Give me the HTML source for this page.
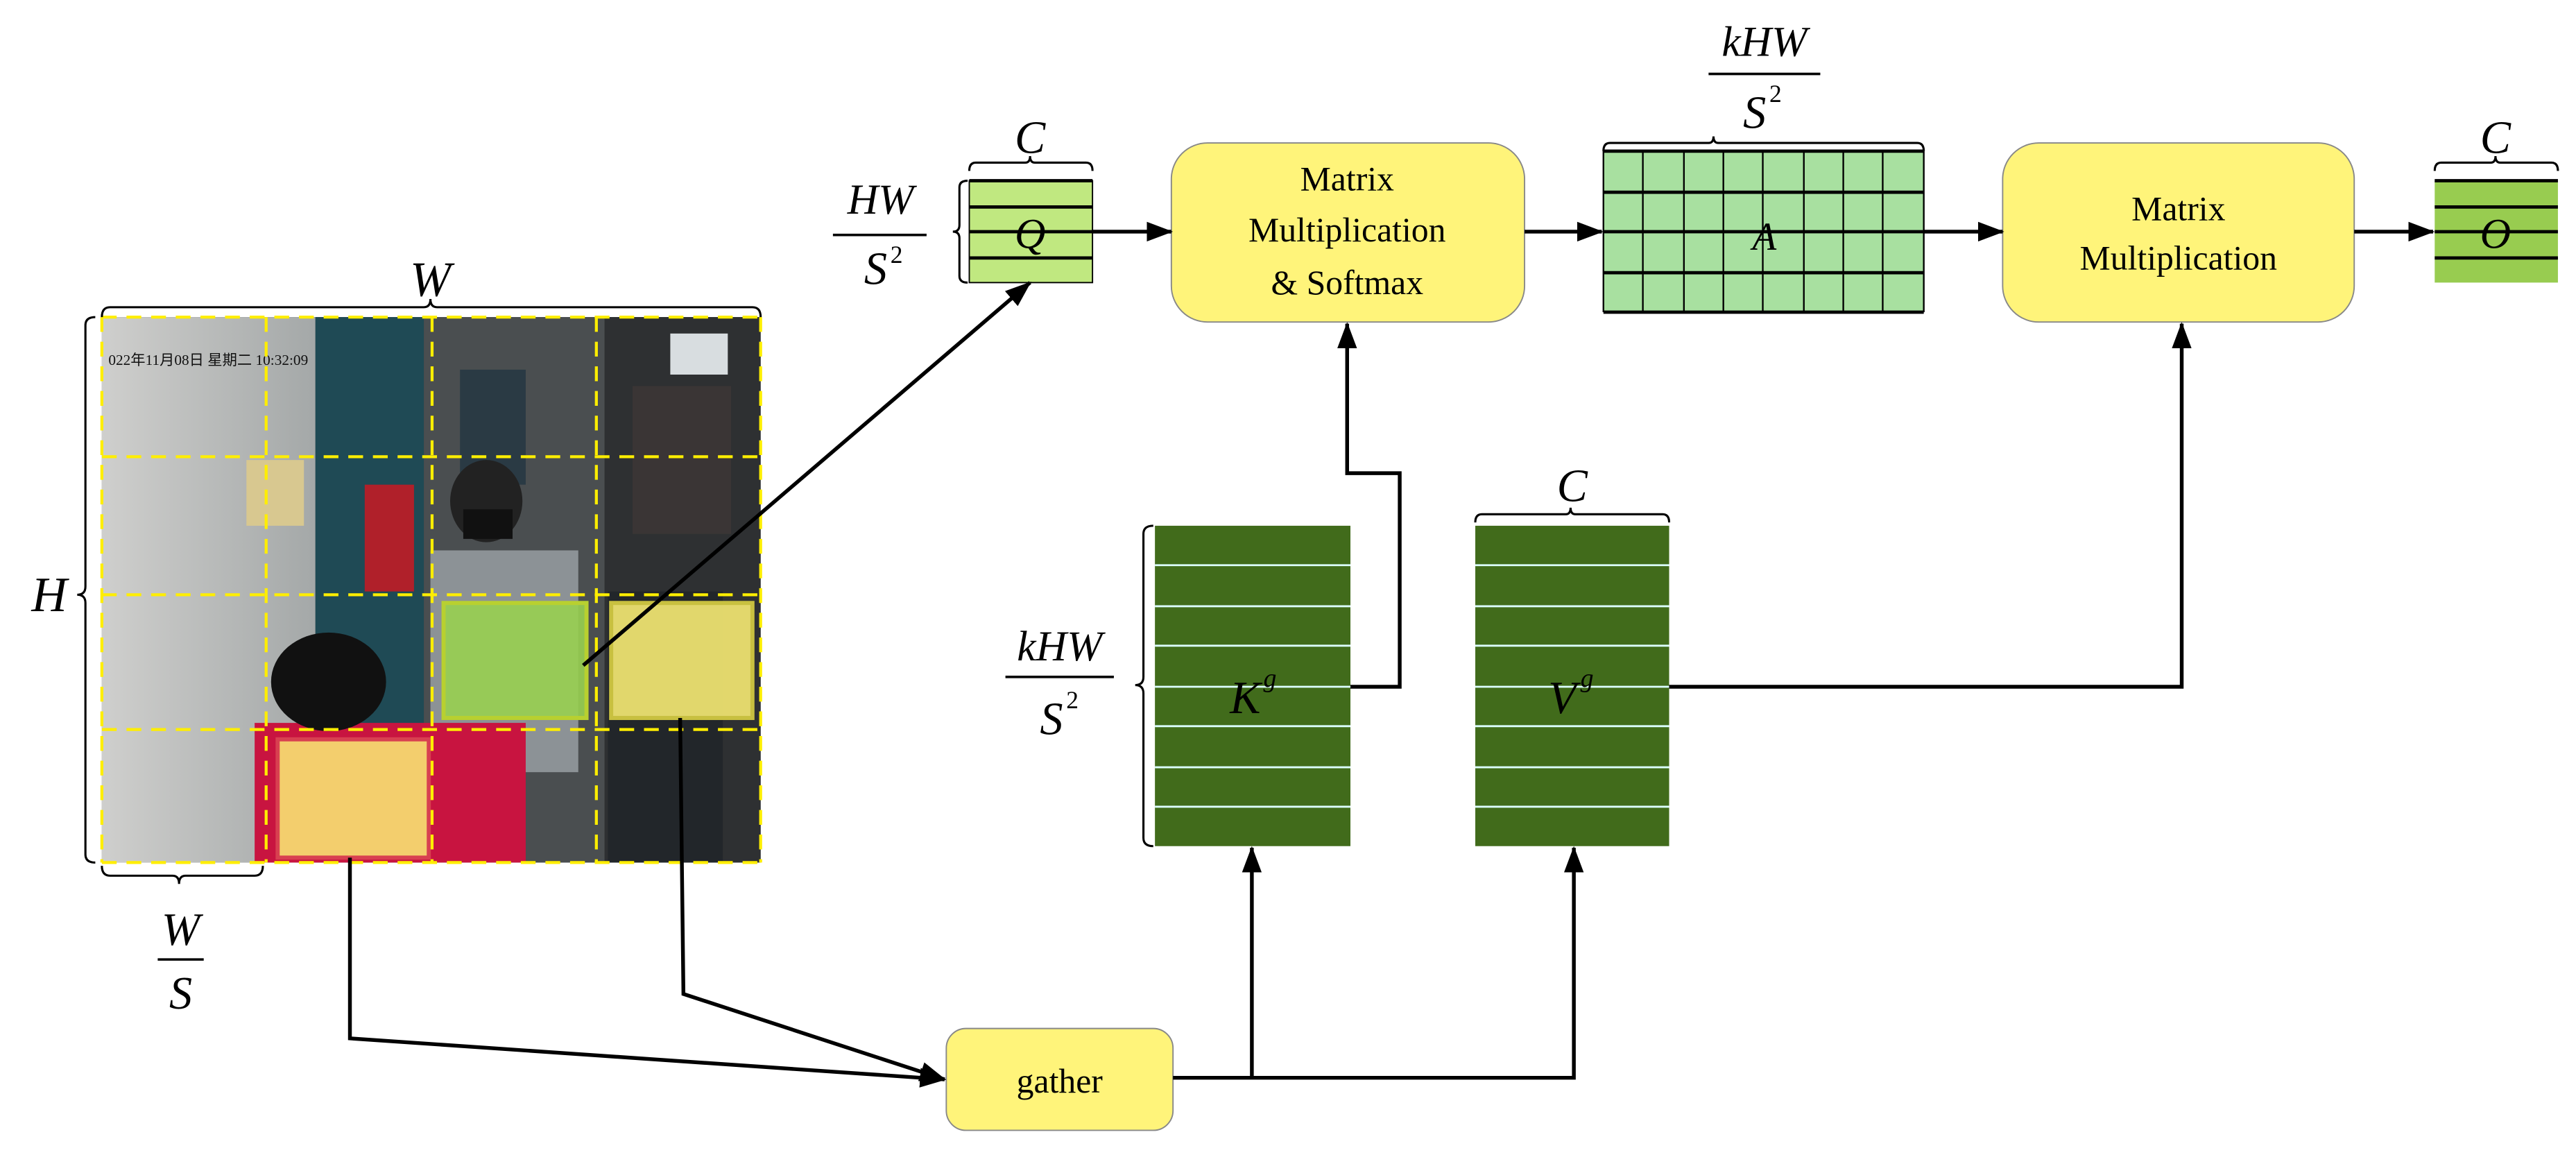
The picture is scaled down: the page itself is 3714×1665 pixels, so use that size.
<!DOCTYPE html>
<html><head><meta charset="utf-8"><style>
html,body{margin:0;padding:0;background:#fff;}
svg{display:block;}
text{font-family:"Liberation Serif",serif;fill:#000;}
.it{font-style:italic;}
</style></head><body>
<svg width="3714" height="1665" viewBox="0 0 1568 703" preserveAspectRatio="none" xmlns="http://www.w3.org/2000/svg">
<defs>
<marker id="ar" markerWidth="16" markerHeight="12" refX="15" refY="6" orient="auto" markerUnits="userSpaceOnUse"><path d="M0,0 L16,6 L0,12 z" fill="#000"/></marker>
<linearGradient id="wall" x1="0" x2="1" y1="0" y2="0"><stop offset="0" stop-color="#cfcfcd"/><stop offset="1" stop-color="#a4a8a8"/></linearGradient>
</defs>
<!-- photo -->
<rect x="62" y="193" width="401" height="332" fill="#3a3d40"/>
<rect x="62" y="193" width="130" height="332" fill="url(#wall)"/>
<rect x="192" y="193" width="66" height="332" fill="#1f4a55"/>
<rect x="258" y="193" width="110" height="332" fill="#4a4e50"/>
<rect x="280" y="225" width="40" height="70" fill="#2a3a44"/>
<rect x="368" y="193" width="95" height="332" fill="#2e3032"/>
<rect x="408" y="203" width="35" height="25" fill="#d8dde0"/>
<rect x="385" y="235" width="60" height="90" fill="#3a3535"/>
<rect x="150" y="280" width="35" height="40" fill="#d8c890"/>
<rect x="222" y="295" width="30" height="65" fill="#b0202a"/>
<rect x="262" y="335" width="90" height="135" fill="#8c9296"/>
<ellipse cx="296" cy="305" rx="22" ry="25" fill="#222"/>
<rect x="282" y="310" width="30" height="18" fill="#111"/>
<rect x="155" y="440" width="165" height="85" fill="#c81440"/>
<ellipse cx="200" cy="415" rx="35" ry="30" fill="#111"/>
<rect x="370" y="360" width="70" height="165" fill="#22262a"/>
<text x="66" y="222" font-size="9" font-family="Liberation Mono, Noto Sans CJK SC, monospace" style="fill:#111">022年11月08日  星期二  10:32:09</text>
<!-- highlight boxes -->
<rect x="270" y="367" width="87" height="70" fill="#98d050" fill-opacity="0.9" stroke="#b8d030" stroke-width="2.5"/>
<rect x="372" y="367" width="86" height="70" fill="#ece070" fill-opacity="0.95" stroke="#c8c040" stroke-width="2.5"/>
<rect x="169" y="450" width="92" height="72" fill="#f6d870" fill-opacity="0.95" stroke="#d84050" stroke-width="2.5"/>
<!-- grid -->
<g stroke="#ffee00" stroke-width="1.8" stroke-dasharray="9,6" fill="none">
<line x1="62" y1="193" x2="463" y2="193"/><line x1="62" y1="278" x2="463" y2="278"/>
<line x1="62" y1="362" x2="463" y2="362"/><line x1="62" y1="444" x2="463" y2="444"/>
<line x1="62" y1="525" x2="463" y2="525"/>
<line x1="62" y1="193" x2="62" y2="525"/><line x1="162" y1="193" x2="162" y2="525"/>
<line x1="263" y1="193" x2="263" y2="525"/><line x1="363" y1="193" x2="363" y2="525"/>
<line x1="463" y1="193" x2="463" y2="525"/>
</g>
<!-- braces -->
<g stroke="#000" stroke-width="1.3" fill="none">
<path d="M62,193 q0,-6 5,-6 L258,187 q4,0 4,-5 q0,5 4,5 L458,187 q5,0 5,6"/>
<path d="M58,193 q-6,0 -6,5 L52,357 q0,5 -5,5 q5,0 5,5 L52,520 q0,5 6,5"/>
<path d="M62,527 q0,6 5,6 L105,533 q4,0 4,5 q0,-5 4,-5 L155,533 q5,0 5,-6"/>
<path d="M590,104 q0,-5 4,-5 L624,99 q3,0 3,-4 q0,4 3,4 L661,99 q4,0 4,5"/>
<path d="M589,110 q-5,0 -5,4 L584,137 q0,4 -4,4 q4,0 4,4 L584,168 q0,4 5,4"/>
<path d="M976,92 q0,-5 4,-5 L1040,87 q3,0 3,-4 q0,4 3,4 L1167,87 q4,0 4,5"/>
<path d="M1482,104 q0,-5 4,-5 L1516,99 q3,0 3,-4 q0,4 3,4 L1553,99 q4,0 4,5"/>
<path d="M702,320 q-6,0 -6,5 L696,412 q0,5 -5,5 q5,0 5,5 L696,510 q0,5 6,5"/>
<path d="M898,318 q0,-5 4,-5 L953,313 q3,0 3,-4 q0,4 3,4 L1012,313 q4,0 4,5"/>
</g>
<text class="it" x="262" y="180" font-size="30" text-anchor="middle">W</text>
<text class="it" x="30" y="372" font-size="30" text-anchor="middle">H</text>
<text class="it" x="110" y="575" font-size="28" text-anchor="middle">W</text>
<line x1="96" y1="584" x2="124" y2="584" stroke="#000" stroke-width="1.5"/>
<text class="it" x="110" y="614" font-size="28" text-anchor="middle">S</text>
<!-- Q -->
<rect x="590" y="110" width="75" height="62" fill="#c0e880" stroke="#000" stroke-width="0.8"/>
<g stroke="#000" stroke-width="2"><line x1="590" y1="110" x2="665" y2="110"/><line x1="590" y1="126" x2="665" y2="126"/><line x1="590" y1="141" x2="665" y2="141"/><line x1="590" y1="157" x2="665" y2="157"/></g>
<text class="it" x="627" y="151" font-size="26" text-anchor="middle">Q</text>
<text class="it" x="627" y="93" font-size="28" text-anchor="middle">C</text>
<text class="it" x="536" y="130" font-size="26" text-anchor="middle">HW</text>
<line x1="507" y1="143" x2="564" y2="143" stroke="#000" stroke-width="1.5"/>
<text class="it" x="533" y="173" font-size="28" text-anchor="middle">S</text><text x="542" y="160" font-size="15">2</text>
<!-- MM1 -->
<rect x="713" y="87" width="215" height="109" rx="22" fill="#fff47a" stroke="#888" stroke-width="0.8"/>
<text x="820" y="116" font-size="21" text-anchor="middle">Matrix</text>
<text x="820" y="147" font-size="21" text-anchor="middle">Multiplication</text>
<text x="820" y="179" font-size="21" text-anchor="middle">&amp; Softmax</text>
<!-- A -->
<rect x="976" y="92" width="195" height="98" fill="#a8e0a0"/>
<g stroke="#000" stroke-width="1">
<line x1="1000" y1="92" x2="1000" y2="190"/><line x1="1025" y1="92" x2="1025" y2="190"/><line x1="1049" y1="92" x2="1049" y2="190"/><line x1="1073" y1="92" x2="1073" y2="190"/><line x1="1098" y1="92" x2="1098" y2="190"/><line x1="1122" y1="92" x2="1122" y2="190"/><line x1="1146" y1="92" x2="1146" y2="190"/>
<line x1="976" y1="92" x2="976" y2="190"/><line x1="1171" y1="92" x2="1171" y2="190"/>
</g>
<g stroke="#000" stroke-width="2"><line x1="976" y1="92" x2="1171" y2="92"/><line x1="976" y1="117" x2="1171" y2="117"/><line x1="976" y1="141" x2="1171" y2="141"/><line x1="976" y1="166" x2="1171" y2="166"/><line x1="976" y1="190" x2="1171" y2="190"/></g>
<text class="it" x="1074" y="152" font-size="24" text-anchor="middle">A</text>
<text class="it" x="1074" y="34" font-size="26" text-anchor="middle">kHW</text>
<line x1="1040" y1="45" x2="1108" y2="45" stroke="#000" stroke-width="1.5"/>
<text class="it" x="1068" y="78" font-size="28" text-anchor="middle">S</text><text x="1077" y="62" font-size="15">2</text>
<!-- MM2 -->
<rect x="1219" y="87" width="214" height="109" rx="22" fill="#fff47a" stroke="#888" stroke-width="0.8"/>
<text x="1326" y="134" font-size="21" text-anchor="middle">Matrix</text>
<text x="1326" y="164" font-size="21" text-anchor="middle">Multiplication</text>
<!-- O -->
<rect x="1482" y="110" width="75" height="62" fill="#98cc50"/>
<g stroke="#000" stroke-width="2"><line x1="1482" y1="110" x2="1557" y2="110"/><line x1="1482" y1="126" x2="1557" y2="126"/><line x1="1482" y1="141" x2="1557" y2="141"/><line x1="1482" y1="157" x2="1557" y2="157"/></g>
<text class="it" x="1519" y="151" font-size="26" text-anchor="middle">O</text>
<text class="it" x="1519" y="93" font-size="28" text-anchor="middle">C</text>
<!-- K, V -->
<rect x="703" y="320" width="119" height="195" fill="#416b1b"/>
<rect x="898" y="320" width="118" height="195" fill="#416b1b"/>
<g stroke="#dff" stroke-width="1.2">
<line x1="703" y1="344" x2="822" y2="344"/><line x1="703" y1="369" x2="822" y2="369"/><line x1="703" y1="393" x2="822" y2="393"/><line x1="703" y1="418" x2="822" y2="418"/><line x1="703" y1="442" x2="822" y2="442"/><line x1="703" y1="467" x2="822" y2="467"/><line x1="703" y1="491" x2="822" y2="491"/>
<line x1="898" y1="344" x2="1016" y2="344"/><line x1="898" y1="369" x2="1016" y2="369"/><line x1="898" y1="393" x2="1016" y2="393"/><line x1="898" y1="418" x2="1016" y2="418"/><line x1="898" y1="442" x2="1016" y2="442"/><line x1="898" y1="467" x2="1016" y2="467"/><line x1="898" y1="491" x2="1016" y2="491"/>
</g>
<text class="it" x="758" y="434" font-size="28" text-anchor="middle">K</text><text class="it" x="769" y="418" font-size="16">g</text>
<text class="it" x="951" y="434" font-size="28" text-anchor="middle">V</text><text class="it" x="962" y="418" font-size="16">g</text>
<text class="it" x="645" y="402" font-size="26" text-anchor="middle">kHW</text>
<line x1="612" y1="412" x2="678" y2="412" stroke="#000" stroke-width="1.5"/>
<text class="it" x="640" y="447" font-size="28" text-anchor="middle">S</text><text x="649" y="431" font-size="15">2</text>
<text class="it" x="957" y="305" font-size="28" text-anchor="middle">C</text>
<!-- gather -->
<rect x="576" y="626" width="138" height="62" rx="12" fill="#fff47a" stroke="#888" stroke-width="0.8"/>
<text x="645" y="665" font-size="21" text-anchor="middle">gather</text>
<!-- connectors -->
<g stroke="#000" stroke-width="2.3" fill="none" marker-end="url(#ar)">
<line x1="665" y1="141" x2="713" y2="141"/>
<line x1="928" y1="141" x2="975" y2="141"/>
<line x1="1171" y1="141" x2="1219" y2="141"/>
<line x1="1433" y1="141" x2="1481" y2="141"/>
<line x1="355" y1="405" x2="627" y2="172"/>
<polyline points="822,418 852,418 852,288 820,288 820,197"/>
<polyline points="1016,418 1328,418 1328,197"/>
<polyline points="213,522 213,632 575,657"/>
<polyline points="414,437 416,605 575,657"/>
<polyline points="714,656 958,656 958,516"/>
<polyline points="762,656 762,516"/>
</g>
</svg>
</body></html>
